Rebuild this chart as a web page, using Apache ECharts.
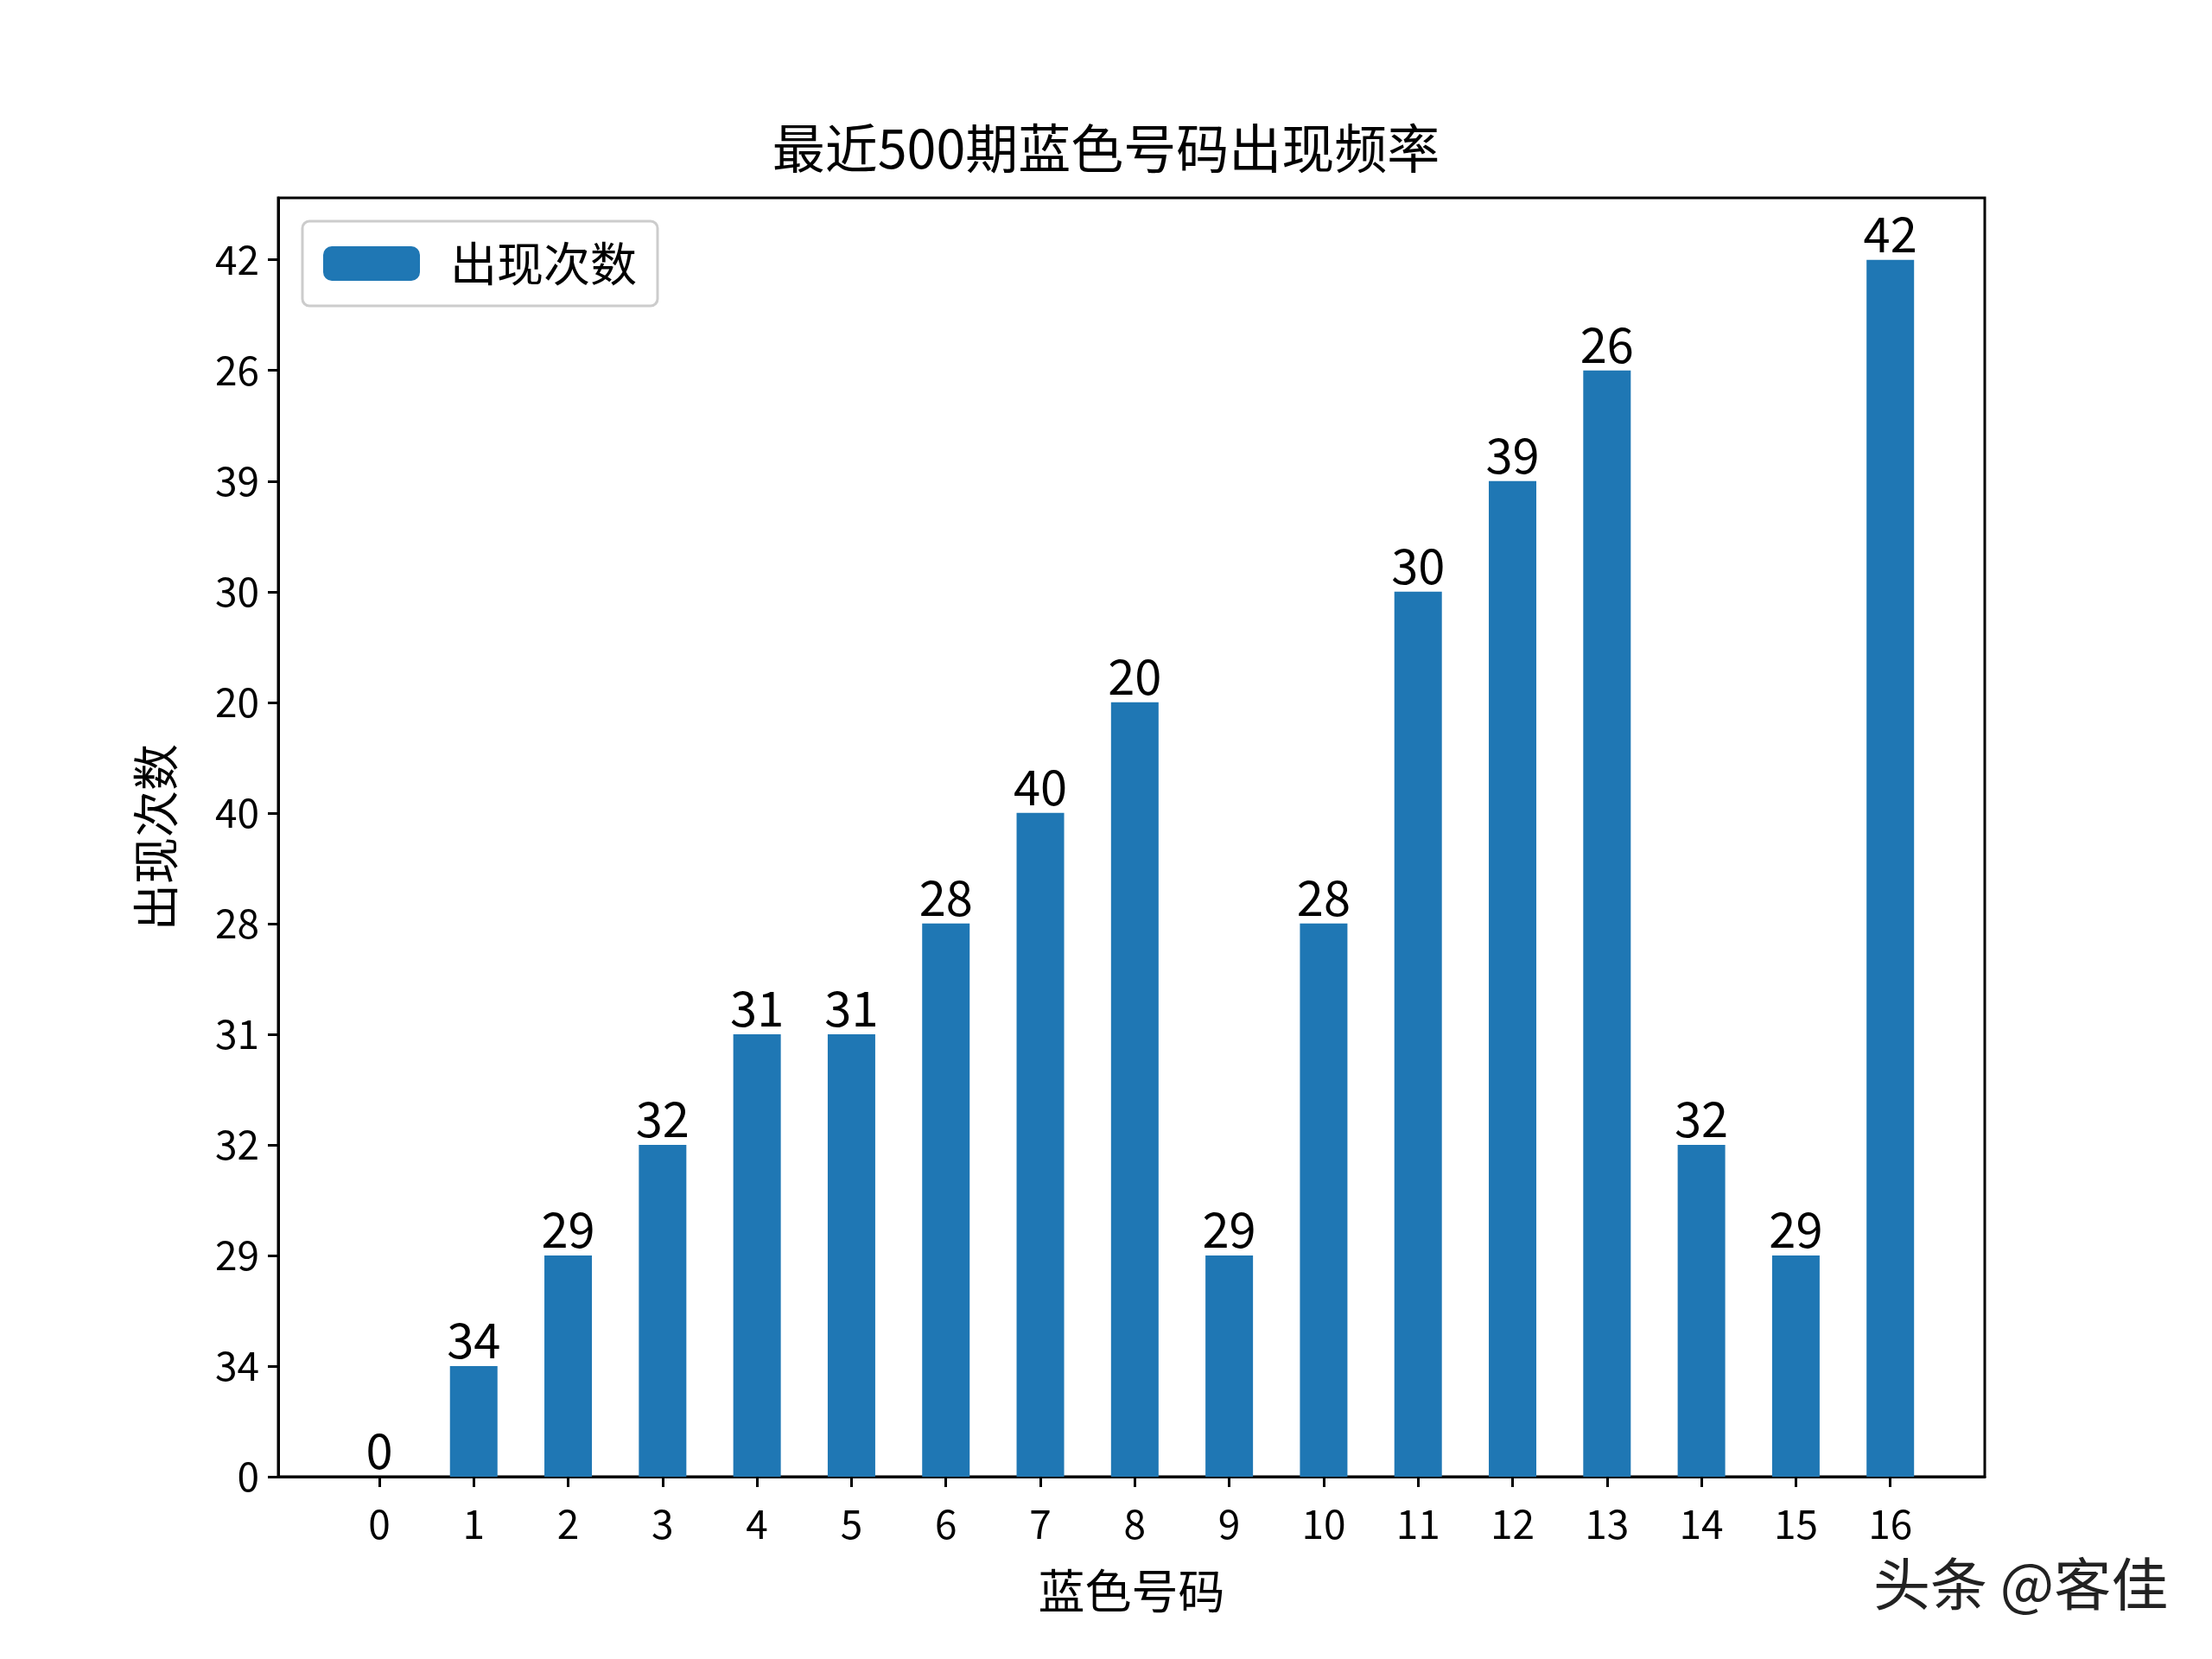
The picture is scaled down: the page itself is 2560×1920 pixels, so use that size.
<!DOCTYPE html>
<html><head><meta charset="utf-8">
<script src="https://cdn.jsdelivr.net/npm/echarts@6/dist/echarts.min.js"></script>
<style>html,body{margin:0;padding:0;background:#fff}#c{width:2560px;height:1920px}</style>
</head><body><div id="c"></div>
<script>
const numbers = [0,1,2,3,4,5,6,7,8,9,10,11,12,13,14,15,16];
const counts = ['0','34','29','32','31','31','28','40','20','29','28','30','39','26','32','29','42'];
// y tick labels (categorical, order of first appearance)
const yTicks = ['0','34','29','32','31','28','40','20','30','39','26','42'];
const F = '"Noto Sans CJK SC", sans-serif';
const chart = echarts.init(document.getElementById('c'));
chart.setOption({
  animation:false,
  backgroundColor:'#fff',
  title:{text:'最近500期蓝色号码出现频率',left:'center',top:136,textStyle:{fontFamily:F,fontSize:61,fontWeight:'normal',color:'#000'}},
  legend:{data:['出现次数'],left:350,top:256,orient:'vertical',padding:[22,24,22,24],itemWidth:112,itemHeight:40,itemGap:20,
    borderColor:'#ccc',borderWidth:3,borderRadius:8,textStyle:{fontFamily:F,fontSize:54,color:'#000',padding:[0,0,0,30]}},
  grid:{left:322,right:263,top:229,bottom:211,show:true,borderColor:'#000',borderWidth:3,containLabel:false},
  xAxis:{type:'value',min:-1.07,max:17,name:'蓝色号码',nameLocation:'middle',nameGap:105,
    nameTextStyle:{fontFamily:F,fontSize:54,color:'#000'},
    axisLine:{show:true,onZero:false,lineStyle:{color:'#000',width:3}},
    axisTick:{show:true,length:12,lineStyle:{color:'#000',width:3},customValues:numbers},
    splitLine:{show:false},
    axisLabel:{fontFamily:F,fontSize:46,color:'#000',margin:32,customValues:numbers,formatter:v=>String(v)}},
  yAxis:{type:'value',min:0,max:11.56,name:'出现次数',nameLocation:'middle',nameGap:115,
    nameTextStyle:{fontFamily:F,fontSize:54,color:'#000'},
    axisLine:{show:true,onZero:false,lineStyle:{color:'#000',width:3}},
    axisTick:{show:true,length:12,lineStyle:{color:'#000',width:3},customValues:yTicks.map((_,i)=>i)},
    splitLine:{show:false},
    axisLabel:{fontFamily:F,fontSize:46,color:'#000',margin:22,customValues:yTicks.map((_,i)=>i),
      formatter:v=>yTicks[Math.round(v)]}},
  series:[{name:'出现次数',type:'bar',barWidth:55,itemStyle:{color:'#1f77b4'},
    data:numbers.map((n,i)=>[n,yTicks.indexOf(counts[i])]),
    label:{show:true,position:'top',distance:2,fontFamily:F,fontSize:56,color:'#000',
      formatter:p=>counts[p.dataIndex]}}],
  graphic:[{type:'text',left:2168,top:1800,style:{text:'头条 @客佳',font:'66px '+F,fill:'#222'}}]
});
</script></body></html>
